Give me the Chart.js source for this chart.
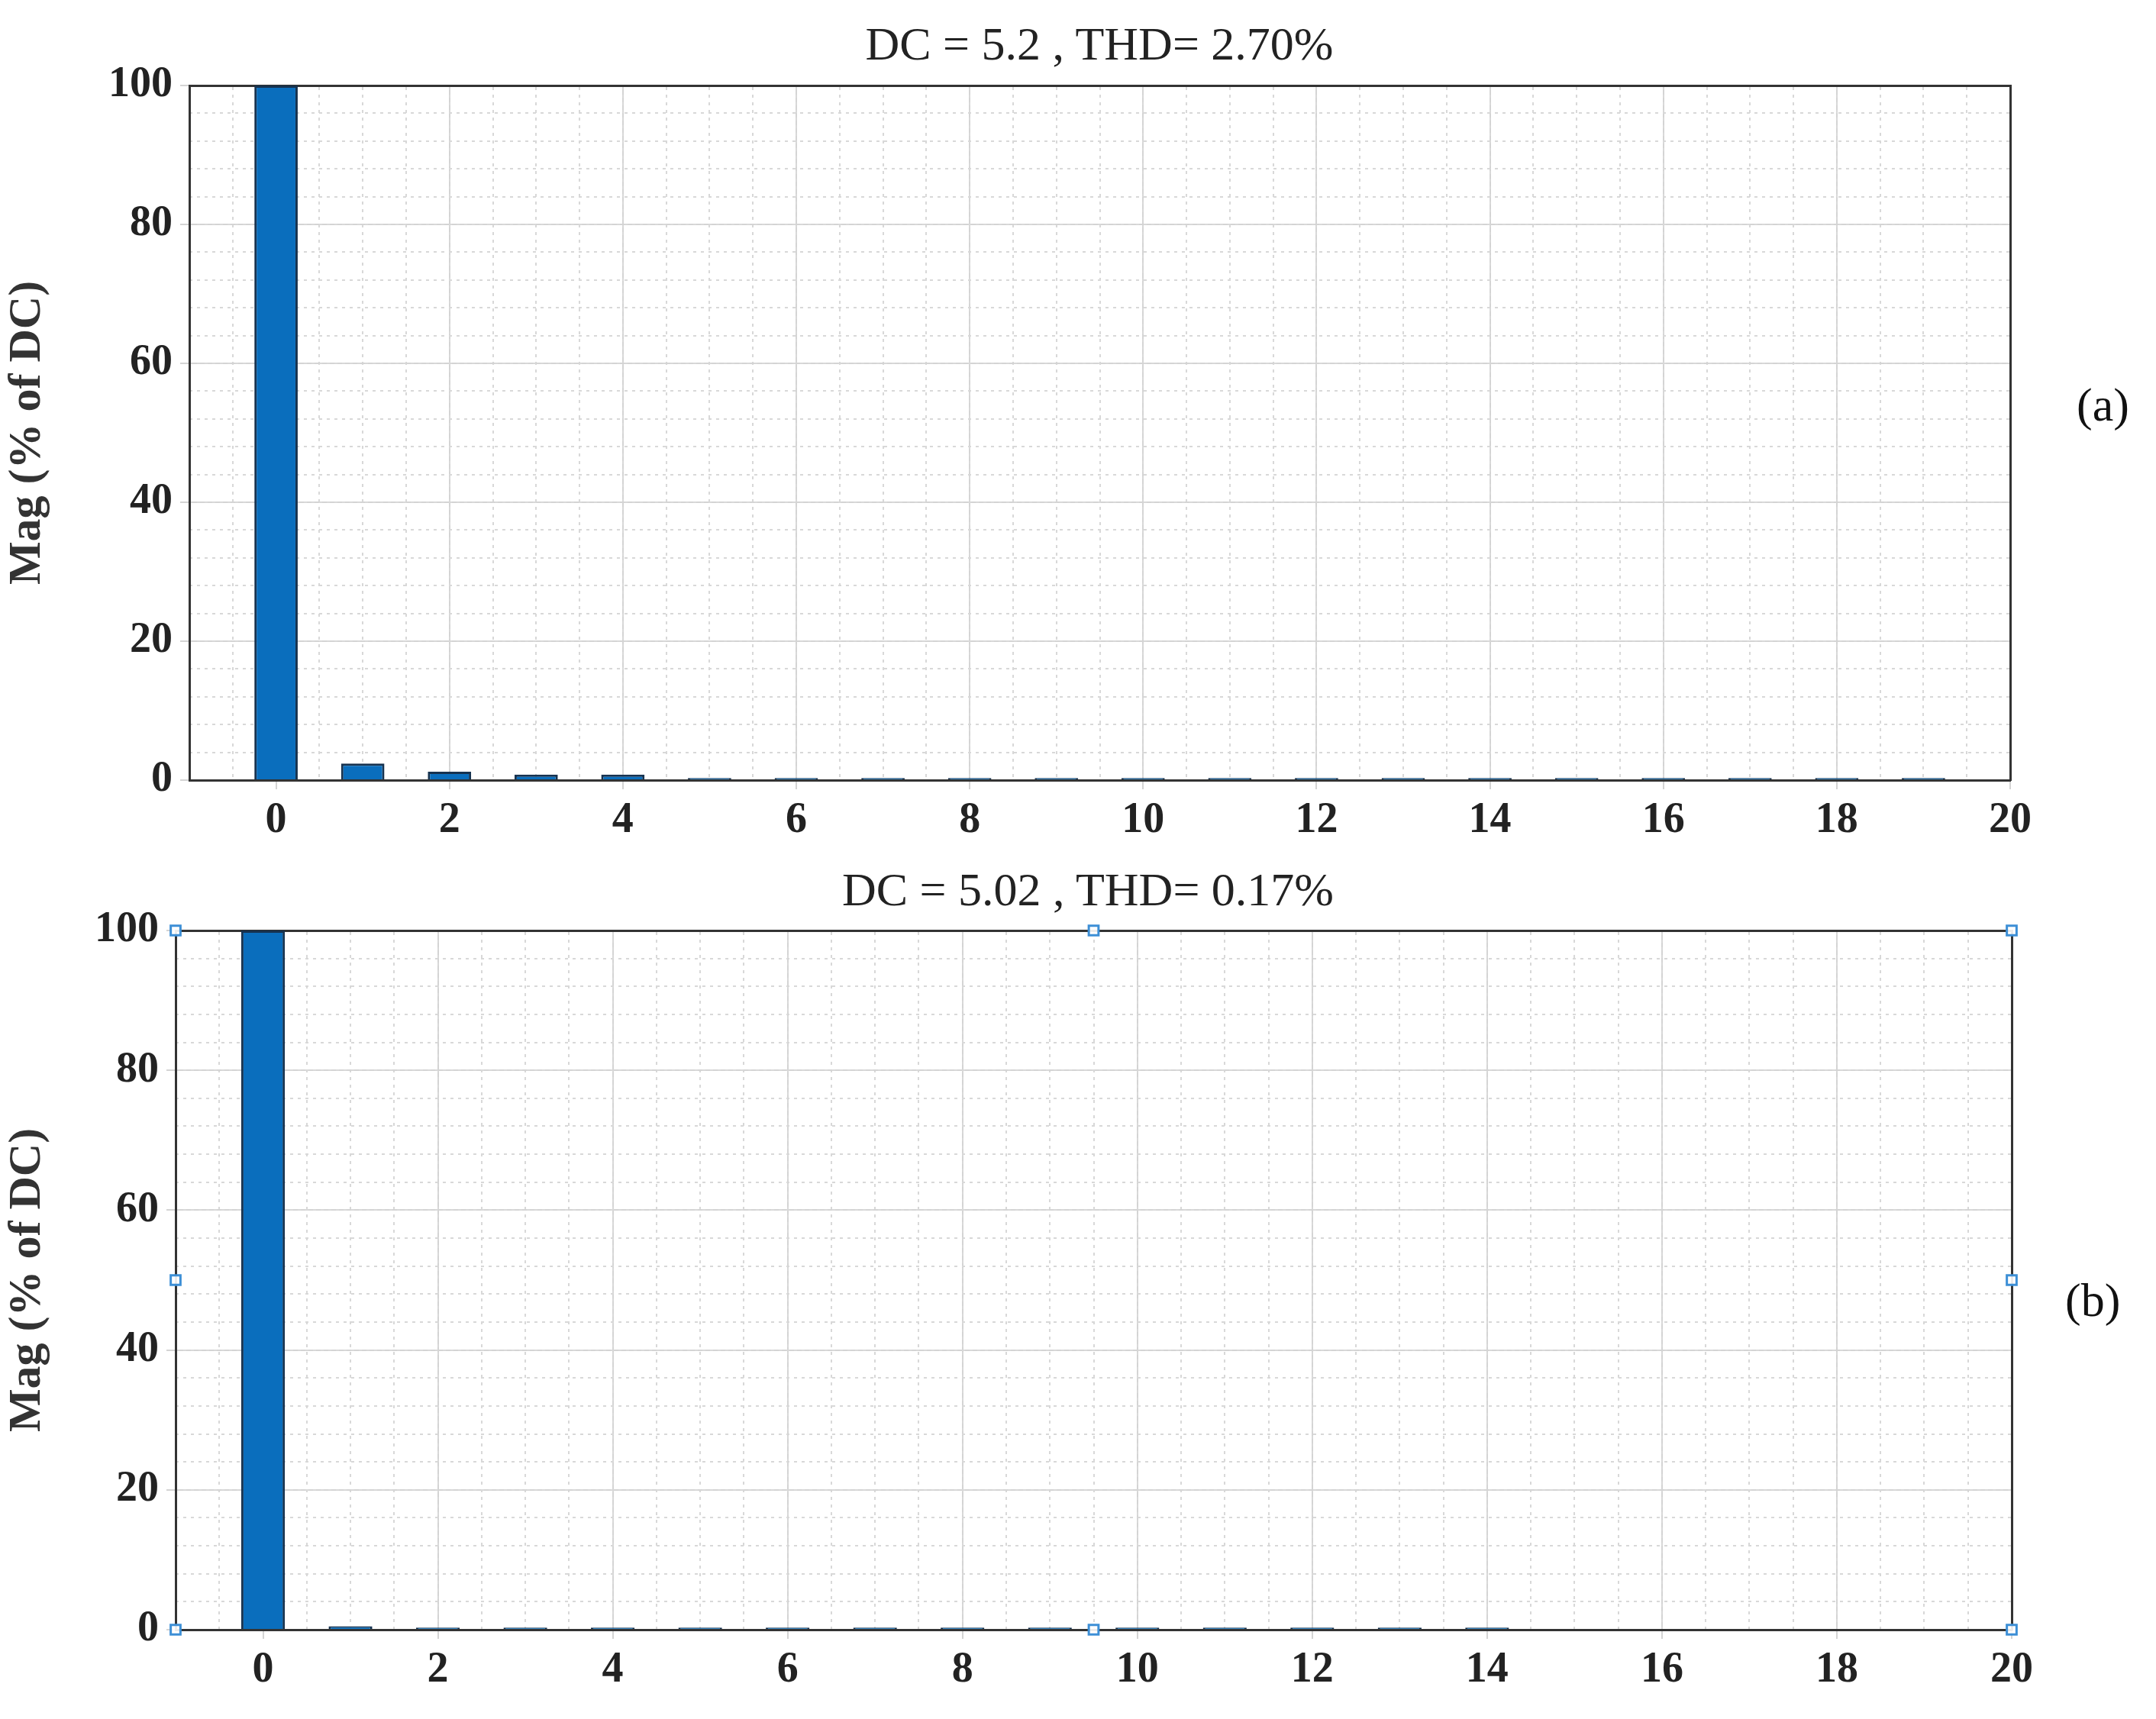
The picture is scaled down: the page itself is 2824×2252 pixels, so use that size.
<!DOCTYPE html>
<html>
<head>
<meta charset="utf-8">
<script src="https://cdn.jsdelivr.net/npm/chart.js@4/dist/chart.umd.min.js"></script>
<style>
body { margin: 0; background: #fff; width: 2824px; height: 2252px; position: relative; overflow: hidden; font-family: "Liberation Serif", serif; }
canvas { position: absolute; left: 0; }
.title { position: absolute; font-size: 62px; color: #222; white-space: nowrap; transform: translateX(-50%); }
.tag { position: absolute; font-size: 62px; color: #111; }
</style>
</head>
<body>
<div class="title" style="left:1440px; top:22px;">DC = 5.2 , THD= 2.70%</div>
<div class="title" style="left:1425px; top:1130px;">DC = 5.02 , THD= 0.17%</div>
<div class="tag" style="left:2720px; top:495px;">(a)</div>
<div class="tag" style="left:2705px; top:1668px;">(b)</div>
<canvas id="chartA" width="2824" height="1110" style="top:0px"></canvas>
<canvas id="chartB" width="2824" height="1122" style="top:1130px"></canvas>
<script>
const harmonicsA = [0, 1, 2, 3, 4, 5, 6, 7, 8, 9, 10, 11, 12, 13, 14, 15, 16, 17, 18, 19];
const magA = [100, 2.4, 1.2, 0.8, 0.8, 0.3, 0.3, 0.3, 0.3, 0.3, 0.3, 0.3, 0.3, 0.3, 0.3, 0.3, 0.3, 0.3, 0.3, 0.3];
const harmonicsB = [0, 1, 2, 3, 4, 5, 6, 7, 8, 9, 10, 11, 12, 13, 14];
const magB = [100, 0.5, 0.3, 0.3, 0.3, 0.3, 0.3, 0.3, 0.3, 0.3, 0.3, 0.3, 0.3, 0.3, 0.3];
const xTicks = [0, 2, 4, 6, 8, 10, 12, 14, 16, 18, 20];
const handleX = [-1, -1, -1, 9.5, 9.5, 20, 20, 20];
const handleY = [0, 50, 100, 0, 100, 0, 50, 100];

const tickFont = { family: 'Liberation Serif', size: 56, weight: 'bold' };

function creaGrafico(id, harm, mag, opts) {
	const datasets = [{
		type: 'bar',
		data: harm.map((h, i) => ({ x: h, y: mag[i] })),
		backgroundColor: '#0a6ebd',
		borderColor: '#16324f',
		borderWidth: 3,
		barPercentage: 0.5,
		categoryPercentage: 1,
		order: 2
	}];
	if (opts.handles) {
		datasets.push({
			type: 'scatter',
			data: handleX.map((x, i) => ({ x, y: handleY[i] })),
			pointStyle: 'rect',
			pointRadius: 9,
			borderColor: '#3d8fd6',
			backgroundColor: 'rgba(255,255,255,0.9)',
			borderWidth: 3,
			clip: false,
			order: 1
		});
	}
	new Chart(document.getElementById(id), {
		data: { datasets },
		options: {
			responsive: false,
			devicePixelRatio: 1,
			animation: false,
			layout: { padding: { top: opts.top, right: opts.right, left: 0, bottom: 0 } },
			plugins: { legend: { display: false }, tooltip: { enabled: false } },
			scales: {
				x: {
					type: 'linear', min: -1, max: 20, offset: false,
					afterFit: (s) => { s.height = opts.xh; },
					afterBuildTicks: (s) => { s.ticks = xTicks.map((v) => ({ value: v })); },
					ticks: { font: tickFont, color: '#222', padding: 8, maxRotation: 0, autoSkip: false },
					grid: { color: '#d4d4d4', lineWidth: 2, tickLength: 12, offset: false },
					border: { color: '#333', width: 3 }
				},
				xm: {
					type: 'linear', min: -1, max: 20, position: 'top', offset: false,
					afterFit: (s) => { s.height = 0; },
					ticks: { display: false, stepSize: 0.5 },
					grid: { color: '#d8d8d8', lineWidth: 2, drawTicks: false, offset: false },
					border: { color: '#333', width: 3, dash: [4, 6] }
				},
				y: {
					min: 0, max: 100,
					afterFit: (s) => { s.width = opts.yw; },
					ticks: { stepSize: 20, font: tickFont, color: '#222', padding: 10 },
					title: { display: true, text: 'Mag (% of DC)', font: { family: 'Liberation Serif', size: 60, weight: 'bold' }, color: '#333', padding: 0 },
					grid: { color: '#d4d4d4', lineWidth: 2, tickLength: 12 },
					border: { color: '#333', width: 3 }
				},
				ym: {
					min: 0, max: 100, position: 'right',
					afterFit: (s) => { s.width = 0; },
					ticks: { display: false, stepSize: 4 },
					grid: { color: '#d8d8d8', lineWidth: 2, drawTicks: false },
					border: { color: '#333', width: 3, dash: [4, 6] }
				}
			}
		}
	});
}

creaGrafico('chartA', harmonicsA, magA, { top: 112, right: 191, xh: 88, yw: 248, handles: false });
creaGrafico('chartB', harmonicsB, magB, { top: 89, right: 189, xh: 117, yw: 230, handles: true });
</script>
</body>
</html>
